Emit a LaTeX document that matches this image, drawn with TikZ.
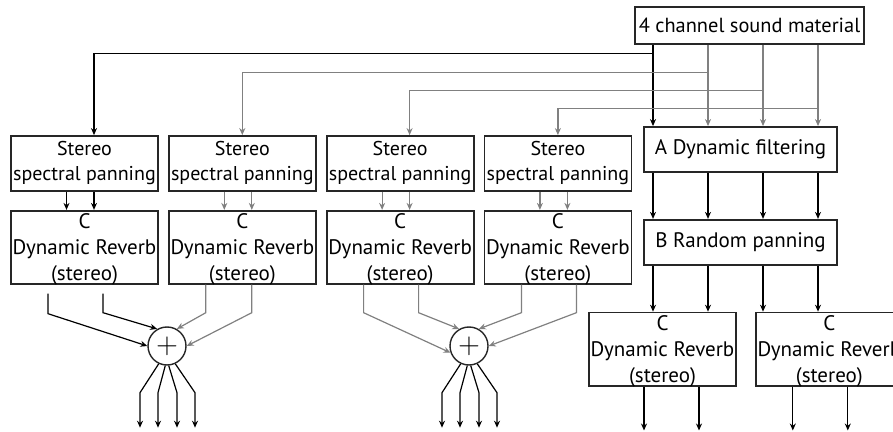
\documentclass[tikz,border=0pt]{standalone}
\usepackage{fontspec}
\setmainfont{PT Sans}
\usetikzlibrary{positioning,arrows.meta}

\begin{document}
\begin{tikzpicture}[
  x=0.5pt, y=-0.5pt,
  node distance=9pt and 4.5pt,
  box/.style={draw=black!85, line width=0.9pt, inner sep=0pt, align=center, font=\fontsize{10.5}{13}\selectfont},
  srcbox/.style={box, minimum width=114.5pt, minimum height=18.5pt, font=\fontsize{10.2}{12}\selectfont},
  procbox/.style={box, minimum width=96.5pt, minimum height=22.5pt},
  sspbox/.style={box, minimum width=73.5pt, minimum height=27.5pt, font=\fontsize{10}{12.5}\selectfont},
  revbox/.style={box, minimum width=73.5pt, minimum height=36.5pt, text depth=-2pt},
  adder/.style={circle, draw=black!85, line width=0.7pt, minimum size=19pt, inner sep=0pt, font=\fontsize{15}{15}\selectfont},
  sig/.style={-{Stealth[length=3.5pt,width=3pt]}, line width=0.6pt, color=black},
]
  \useasboundingbox (0,0) rectangle (893,432);

  % source and right column
  \node[srcbox] (src) at (749.5,25.5) {4 channel sound material};
  \node[procbox] (filt) at (740.5,149.5) {A Dynamic filtering};
  \node[procbox, below=23pt of filt] (pan) {B Random panning};
  \node[revbox, below=23pt of pan, xshift=-39pt] (rev5) {C\\Dynamic Reverb\\(stereo)};
  \node[revbox, right=9pt of rev5] (rev6) {C\\Dynamic Reverb\\(stereo)};

  % stereo spectral panning row
  \node[sspbox] (ssp1) at (84.5,163.5) {Stereo\\spectral panning};
  \node[sspbox, right=of ssp1] (ssp2) {Stereo\\spectral panning};
  \node[sspbox, right=of ssp2] (ssp3) {Stereo\\spectral panning};
  \node[sspbox, right=of ssp3] (ssp4) {Stereo\\spectral panning};

  % reverbs under them
  \foreach \n in {1,...,4}
    \node[revbox, below=of ssp\n] (rev\n) {C\\Dynamic Reverb\\(stereo)};

  % summing points
  \node[adder] (sum1) at (167,346) {$+$};
  \node[adder] (sum2) at (469,346) {$+$};

  % channel taps on the source
  \foreach \i/\dx in {1/-96.5,2/-41.5,3/13.5,4/68.5}
    \coordinate (c\i) at ([shift={(\dx,0)}]src.south);

  % channels into A
  \draw[sig] (c1) -- (c1 |- filt.north);
  \foreach \i in {2,3,4}
    \draw[sig, color=gray] (c\i) -- (c\i |- filt.north);

  % channels to the spectral panners
  \draw[sig] (c1) -- ++(0,9) -| ([shift={(9.5,0)}]ssp1.north);
  \draw[sig, color=gray] (c2) -- ++(0,28) -| (ssp2.north);
  \draw[sig, color=gray] (c3) -- ++(0,46) -| ([shift={(9.5,0)}]ssp3.north);
  \draw[sig, color=gray] (c4) -- ++(0,64) -| (ssp4.north);

  % panners into reverbs
  \foreach \n/\col in {1/black,2/gray,3/gray,4/gray}
    \foreach \dx in {-18,9.5}
      \draw[sig, color=\col] ([shift={(\dx,0)}]ssp\n.south) -- ([shift={(\dx,0)}]rev\n.north);

  % reverbs into the sums
  \draw[sig] ([shift={(-36.5,9)}]rev1.south) -- ++(0,20) -- (sum1.180);
  \draw[sig] ([shift={(18.5,9)}]rev1.south) -- ++(0,19) -- (sum1.120);
  \draw[sig, color=gray] ([shift={(-36.5,0)}]rev2.south) -- ++(0,28) -- (sum1.60);
  \draw[sig, color=gray] ([shift={(9.5,0)}]rev2.south) -- ++(0,28) -- (sum1.0);
  \draw[sig, color=gray] ([shift={(-36.5,0)}]rev3.south) -- ++(0,28) -- (sum2.200);
  \draw[sig, color=gray] ([shift={(18.5,0)}]rev3.south) -- ++(0,28) -- (sum2.120);
  \draw[sig, color=gray] ([shift={(-36.5,0)}]rev4.south) -- ++(0,28) -- (sum2.60);
  \draw[sig, color=gray] ([shift={(18.5,0)}]rev4.south) -- ++(0,28) -- (sum2.0);

  % sum outputs
  \foreach \s in {sum1,sum2}
    \foreach \a/\dx in {245/-27,265/-9,275/10,295/28}
      \draw[sig] (\s.\a) -- ([shift={(\dx,27)}]\s.south) -- ++(0,35);

  % right column chain
  \foreach \i in {1,...,4}
    \draw[sig] (c\i |- filt.south) -- (c\i |- pan.north);
  \draw[sig] (c1 |- pan.south) -- (c1 |- rev5.north);
  \draw[sig] (c2 |- pan.south) -- (c2 |- rev5.north);
  \draw[sig] (c3 |- pan.south) -- (c3 |- rev6.north);
  \draw[sig] (c4 |- pan.south) -- (c4 |- rev6.north);

  % reverb outputs
  \foreach \dx in {-18.5,36.5}
    \draw[sig] ([shift={(\dx,0)}]rev5.south) -- ++(0,44);
  \foreach \dx in {-36.5,18.5}
    \draw[sig] ([shift={(\dx,0)}]rev6.south) -- ++(0,44);
\end{tikzpicture}
\end{document}
